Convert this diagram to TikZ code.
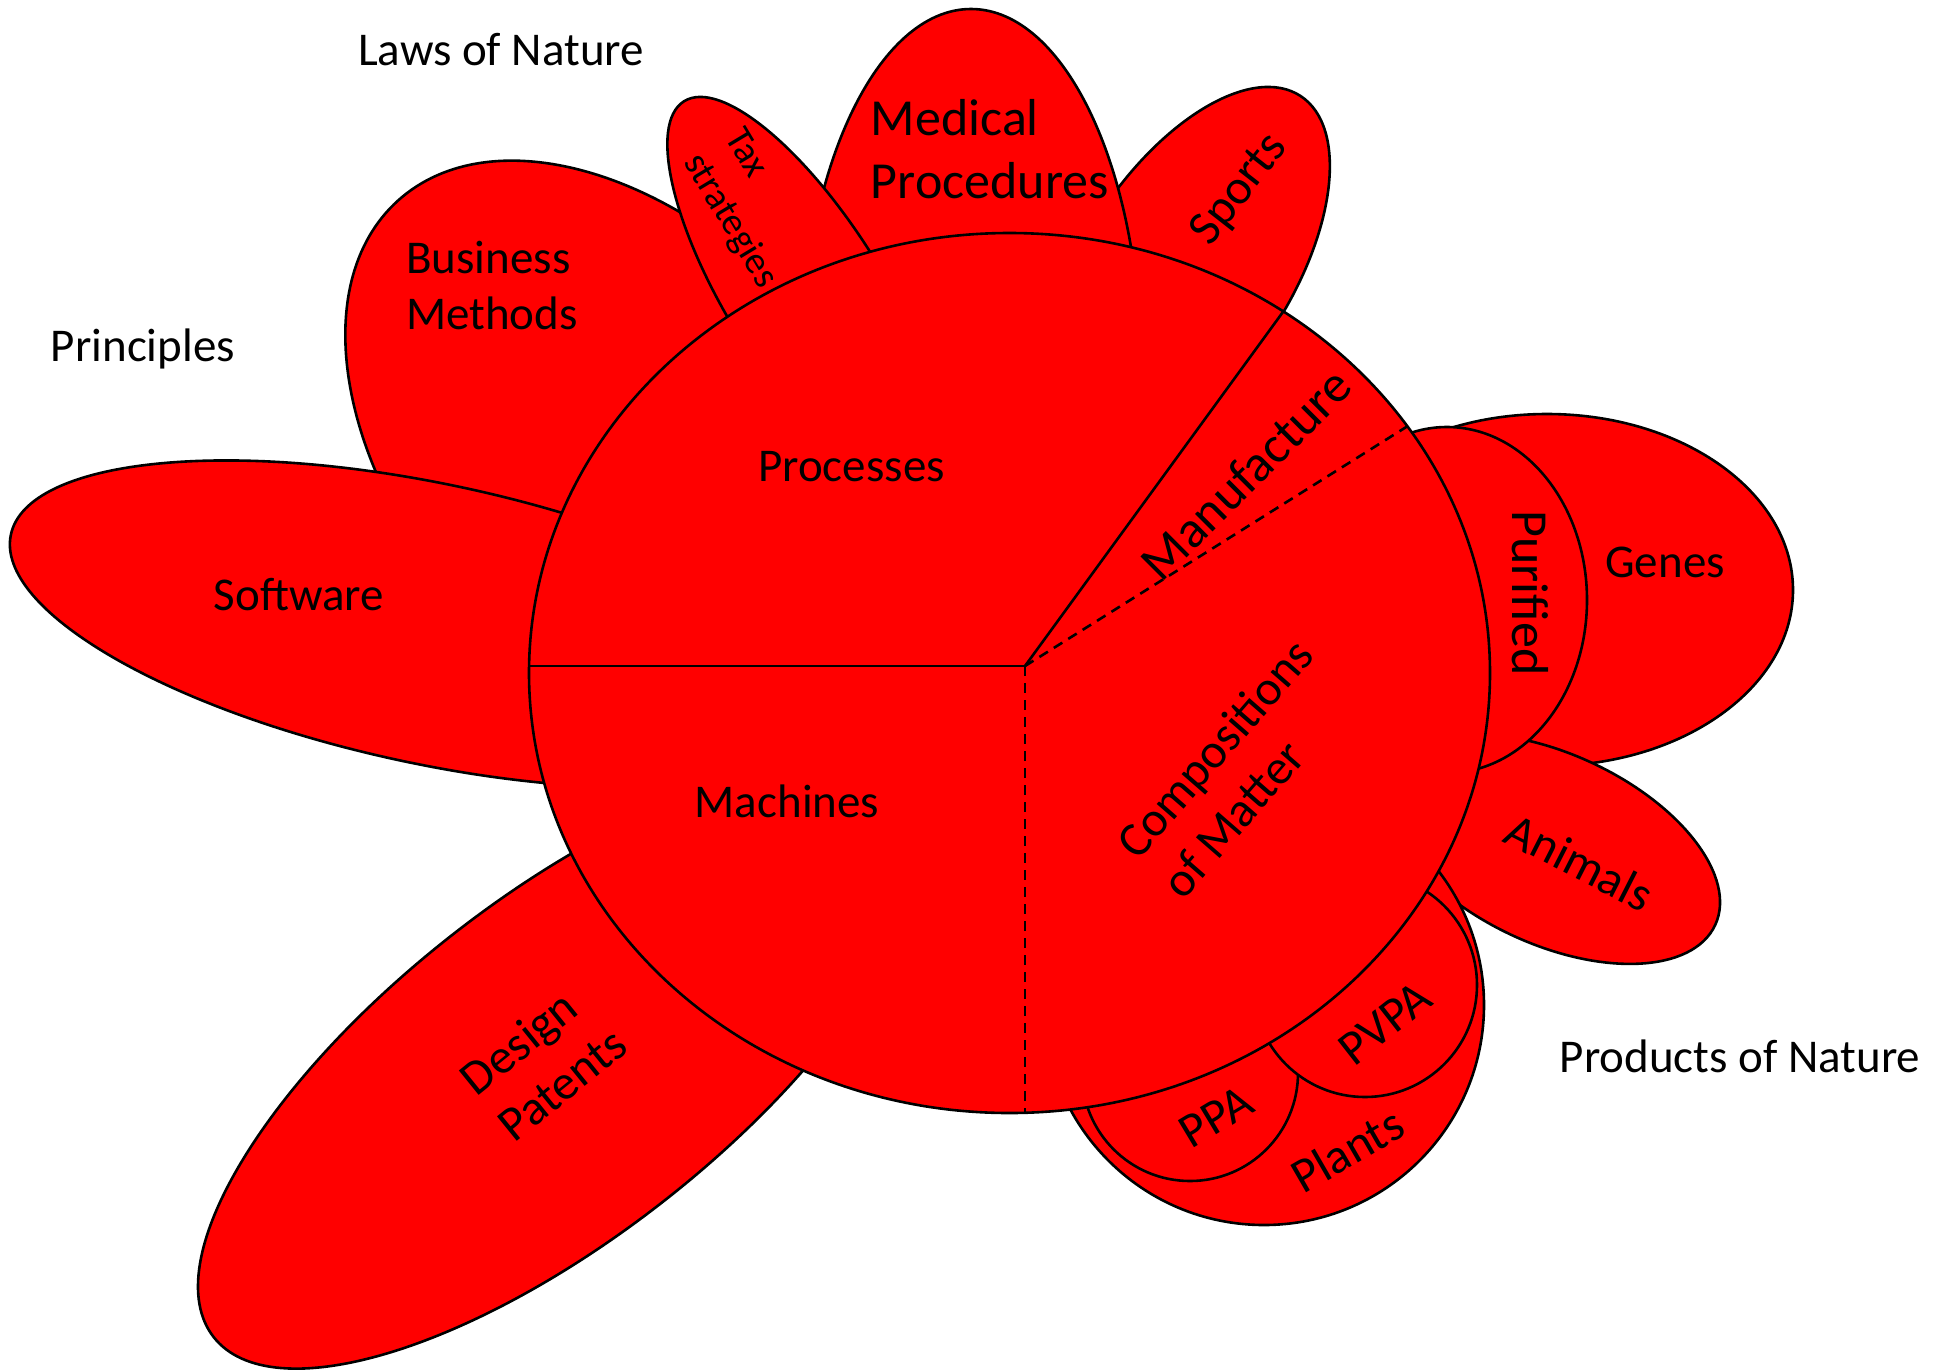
\documentclass[tikz,border=0pt]{standalone}
\usepackage{fontspec}
\setmainfont{Carlito}
\definecolor{petalred}{RGB}{255,0,0}
\tikzset{
  petal/.style={fill=petalred, draw=black, line width=2.6pt},
  divider/.style={draw=black, line width=2.6pt},
  dashline/.style={draw=black, line width=2.6pt, dash pattern=on 10pt off 7pt},
  lbl/.style={font=\fontsize{47}{57}\selectfont, inner sep=0pt},
  lblbig/.style={font=\fontsize{52}{63}\selectfont, inner sep=0pt},
  lblmid/.style={font=\fontsize{49}{60}\selectfont, inner sep=0pt},
  lblsmall/.style={font=\fontsize{38}{48}\selectfont, inner sep=0pt},
}
\begin{document}
\begin{tikzpicture}[x=1pt,y=-1pt]
\useasboundingbox (0,0) rectangle (1939,1369);
% upper-left petals
\path[petal] (639,468) ellipse[x radius=360pt, y radius=226pt, rotate=-48];
\path[petal] (431.5,624) ellipse[x radius=430pt, y radius=140pt, rotate=-12];
\path[petal] (1186,272) ellipse[x radius=210pt, y radius=104pt, rotate=57];
\path[petal] (971,369) ellipse[x radius=170pt, y radius=360pt];
\path[petal] (807,298) ellipse[x radius=232pt, y radius=78pt, rotate=-58];
% right petals
\path[petal] (1547,590) ellipse[x radius=246pt, y radius=176pt];
\path[petal] (1552,849) ellipse[x radius=180pt, y radius=95pt, rotate=-25];
\path[petal] (1447,600) ellipse[x radius=140pt, y radius=173pt];
\path[petal] (1264,1005) circle[radius=220pt];
\path[petal] (1190,1073) circle[radius=108pt];
\path[petal] (1365,985) circle[radius=112pt];
% design patents
\path[petal] (558,1068) ellipse[x radius=437pt, y radius=170pt, rotate=38];
% main circle
\path[petal] (1009.5,673) ellipse[x radius=480.5pt, y radius=440pt];
% dividers
\coordinate (hub) at (1025,666);
\coordinate (wend) at (529,666);
\coordinate (neend) at (1282.7,312.3);
\coordinate (eneend) at (1406.7,426.7);
\coordinate (send) at (1025,1112);
\draw[divider] (hub) -- (wend);
\draw[divider] (hub) -- (neend);
\draw[dashline] (hub) -- (eneend);
\draw[dashline] (hub) -- (send);
% outside labels
\node[lbl, anchor=base] (laws) at (501,65.5) {Laws of Nature};
\node[lbl, anchor=base] (princ) at (143,361) {Principles};
\node[lbl, anchor=base] (prod) at (1740,1072) {Products of Nature};
% petal labels
\node[lbl, anchor=base west] (bus1) at (406,273) {Business};
\node[lbl, anchor=base west] (bus2) at (406,329) {Methods};
\node[lblbig, anchor=base west] (med1) at (870.7,135) {Medical};
\node[lblbig, anchor=base west] (med2) at (870.7,198) {Procedures};
\node[lbl, anchor=base] (proc) at (851.5,481) {Processes};
\node[lbl, anchor=base] (soft) at (299,610) {Software};
\node[lbl, anchor=base] (mach) at (787,817) {Machines};
\node[lbl, anchor=base] (genes) at (1665,577) {Genes};
\node[lblsmall, rotate=-59, align=left] (tax) at (750,209) {Tax\\strategies};
\node[lblmid, rotate=52] (sports) at (1240,190) {Sports};
\node[lblbig, rotate=45] (manu) at (1246,474) {Manufacture};
\node[lblmid, rotate=49, align=left] (comp) at (1237,768) {Compositions\\of Matter};
\node[lblbig, rotate=-90] (pur) at (1530,593) {Purified};
\node[lblmid, rotate=-27] (anim) at (1580,862) {Animals};
\node[lblmid, rotate=38] (pvpa) at (1385,1023) {PVPA};
\node[lblmid, rotate=31] (ppa) at (1216,1117) {PPA};
\node[lblmid, rotate=30] (plants) at (1347,1150) {Plants};
\node[lblmid, rotate=39, align=left] (design) at (543,1061) {Design\\Patents};
\end{tikzpicture}
\end{document}
